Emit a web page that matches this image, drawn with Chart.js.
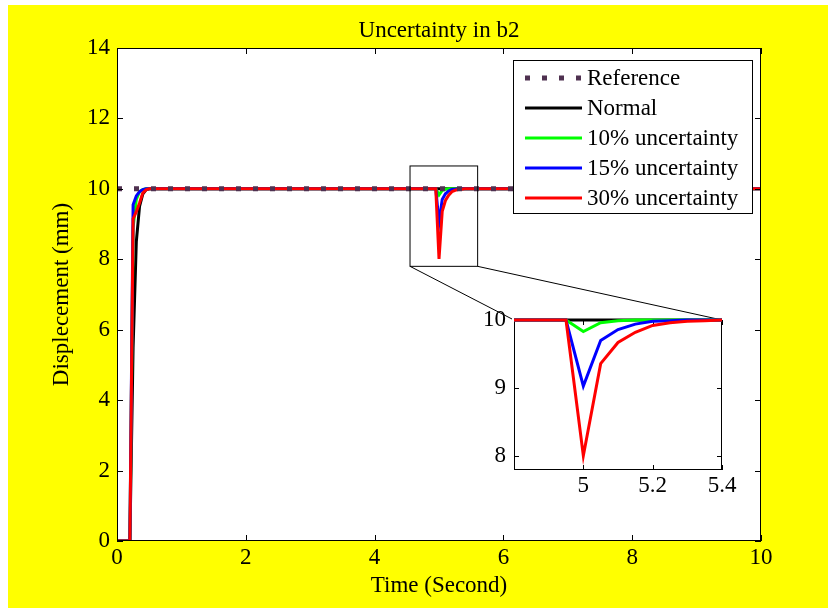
<!DOCTYPE html>
<html>
<head>
<meta charset="utf-8">
<script src="https://cdn.jsdelivr.net/npm/chart.js@4/dist/chart.umd.min.js"></script>
<style>
  html, body { margin: 0; padding: 0; background: #fff; }
  #wrap { position: relative; width: 828px; height: 608px; }
  #main { position: absolute; left: 0; top: 0; }
  #inset { position: absolute; left: 440px; top: 290px; }
</style>
</head>
<body>
<div id="wrap">
  <canvas id="main" width="828" height="608"></canvas>
  <canvas id="inset" width="300" height="220"></canvas>
</div>
<script>
// values: time (s) and displacement (mm)
const time   = [0, 0.2, 0.25, 0.3, 0.35, 0.4, 0.45, 0.5, 4.95, 5.0, 5.05, 5.1, 5.15, 5.2, 5.25, 5.3, 5.35, 5.4, 10];
const normal = [0, 0, 5.5, 8.5, 9.5, 9.85, 9.97, 10, 10, 10, 10, 10, 10, 10, 10, 10, 10, 10, 10];
const unc10  = [0, 0, 8.9, 9.7, 9.92, 9.98, 10, 10, 10, 9.83, 9.96, 9.99, 10, 10, 10, 10, 10, 10, 10];
const unc15  = [0, 0, 9.55, 9.8, 9.92, 9.98, 10, 10, 10, 9.03, 9.7, 9.86, 9.94, 9.98, 9.99, 10, 10, 10, 10];
const unc30  = [0, 0, 9.15, 9.35, 9.6, 9.88, 9.97, 10, 10, 8.01, 9.36, 9.67, 9.82, 9.92, 9.96, 9.98, 9.99, 10, 10];
const refTime  = [0, 10];
const refValue = [10, 10];

const seriesNames = ["Reference", "Normal", "10% uncertainty", "15% uncertainty", "30% uncertainty"];
const xTicks = [0, 2, 4, 6, 8, 10];
const yTicks = [0, 2, 4, 6, 8, 10, 12, 14];
const insetXTicks = [5, 5.2, 5.4];
const insetYTicks = [8, 9, 10];

// zoomed window (data units) and where the inset sits on the page
const zoomWin = { x0: 4.55, x1: 5.6, y0: 7.8, y1: 10.65 };
const insetBox = { left: 514, top: 320, right: 722, bottom: 470 };

const FONT = { family: '"Liberation Serif", "Times New Roman", serif', size: 23, lineHeight: 1.2 };
const colors = ["#4f3150", "#000000", "#00ff00", "#0000ff", "#ff0000"];

function pts(xs, ys) {
  return xs.map((x, i) => ({ x: x, y: ys[i] }));
}

function makeSets(withRef, clip) {
  // lower "order" is painted on top: reference, then red, blue, green, black
  let sets = [
    { label: seriesNames[1], data: pts(time, normal), borderColor: colors[1], borderWidth: 3, order: 4, clip: clip },
    { label: seriesNames[2], data: pts(time, unc10), borderColor: colors[2], borderWidth: 3, order: 3, clip: clip },
    { label: seriesNames[3], data: pts(time, unc15), borderColor: colors[3], borderWidth: 3, order: 2, clip: clip },
    { label: seriesNames[4], data: pts(time, unc30), borderColor: colors[4], borderWidth: 3, order: 1, clip: clip },
  ];
  if (withRef) {
    sets.unshift({ label: seriesNames[0], data: pts(refTime, refValue), borderColor: colors[0],
      borderWidth: 5, borderDash: [5, 12], borderCapStyle: "butt", order: 0 });
  }
  return sets;
}

function frame(chart, len) {
  const { ctx, chartArea: a, scales: { x, y } } = chart;
  ctx.save();
  ctx.strokeStyle = "#000";
  ctx.lineWidth = 1;
  ctx.beginPath();
  x.ticks.forEach(t => {
    const px = Math.round(x.getPixelForValue(t.value)) + 0.5;
    ctx.moveTo(px, a.bottom); ctx.lineTo(px, a.bottom - len);
    ctx.moveTo(px, a.top); ctx.lineTo(px, a.top + len);
  });
  y.ticks.forEach(t => {
    const py = Math.round(y.getPixelForValue(t.value)) + 0.5;
    ctx.moveTo(a.left, py); ctx.lineTo(a.left + len, py);
    ctx.moveTo(a.right, py); ctx.lineTo(a.right - len, py);
  });
  ctx.stroke();
  ctx.strokeRect(a.left + 0.5, a.top + 0.5, a.width - 1, a.height - 1);
  ctx.restore();
}

function fontStr() {
  return FONT.size + "px " + FONT.family;
}

const mainPlugin = {
  id: "matlabLook",
  beforeDraw(chart) {
    const { ctx, chartArea: a } = chart;
    ctx.save();
    ctx.fillStyle = "#ffffff";
    ctx.fillRect(0, 0, chart.width, chart.height);
    ctx.fillStyle = "#ffff00";
    ctx.fillRect(8, 5, chart.width - 8, chart.height - 5);
    ctx.fillStyle = "#ffffff";
    ctx.fillRect(a.left, a.top, a.width, a.height);
    ctx.restore();
  },
  afterDraw(chart) {
    const { ctx, chartArea: a, scales: { x, y } } = chart;
    frame(chart, 6);

    // title
    ctx.save();
    ctx.font = fontStr();
    ctx.fillStyle = "#000";
    ctx.textAlign = "center";
    ctx.textBaseline = "middle";
    ctx.fillText("Uncertainty in b2", (a.left + a.right) / 2, 31);

    // zoom rectangle and connector lines to the inset
    const zx0 = x.getPixelForValue(zoomWin.x0), zx1 = x.getPixelForValue(zoomWin.x1);
    const zy0 = y.getPixelForValue(zoomWin.y0), zy1 = y.getPixelForValue(zoomWin.y1);
    ctx.strokeStyle = "#000";
    ctx.lineWidth = 1;
    ctx.strokeRect(zx0, zy1, zx1 - zx0, zy0 - zy1);
    ctx.beginPath();
    ctx.moveTo(zx0, zy0); ctx.lineTo(insetBox.left - 2, insetBox.top - 1);
    ctx.moveTo(zx1, zy0); ctx.lineTo(insetBox.right, insetBox.top);
    ctx.stroke();

    // legend box
    const lx = 513, ly = 60, lw = 239, lh = 153, rowH = 30;
    ctx.fillStyle = "#fff";
    ctx.fillRect(lx, ly, lw, lh);
    ctx.strokeRect(lx + 0.5, ly + 0.5, lw, lh);
    ctx.textAlign = "left";
    chart.data.datasets.forEach((ds, i) => {
      const cy = ly + 18 + i * rowH;
      ctx.save();
      ctx.strokeStyle = ds.borderColor;
      ctx.lineWidth = i === 0 ? 5 : 3;
      ctx.lineCap = "butt";
      ctx.setLineDash(ds.borderDash || []);
      ctx.beginPath();
      ctx.moveTo(525, cy); ctx.lineTo(582, cy);
      ctx.stroke();
      ctx.restore();
      ctx.fillStyle = "#000";
      ctx.fillText(ds.label, 587, cy + 1);
    });
    ctx.restore();
  }
};

const insetPlugin = {
  id: "insetLook",
  beforeDraw(chart) {
    const { ctx, chartArea: a } = chart;
    ctx.save();
    ctx.fillStyle = "#ffffff";
    ctx.fillRect(a.left, a.top, a.width, a.height);
    ctx.restore();
  },
  beforeDatasetsDraw(chart) {
    frame(chart, 5);
  }
};

function axis(min, max, ticks, size, isX, padding, title) {
  return {
    type: "linear",
    min: min,
    max: max,
    afterBuildTicks: s => { s.ticks = ticks.map(v => ({ value: v })); },
    afterFit: s => { if (isX) s.height = size; else s.width = size; },
    grid: { display: false, drawTicks: false },
    border: { display: false },
    ticks: { font: FONT, color: "#000", padding: padding, autoSkip: false, maxRotation: 0,
      callback: v => String(v) },
    title: title || { display: false }
  };
}

Chart.defaults.font.family = FONT.family;

new Chart(document.getElementById("main"), {
  type: "line",
  data: { datasets: makeSets(true) },
  options: {
    responsive: false,
    animation: false,
    layout: { padding: { left: 0, top: 48, right: 67, bottom: 0 } },
    elements: { point: { radius: 0 }, line: { tension: 0 } },
    plugins: { legend: { display: false }, tooltip: { enabled: false } },
    scales: {
      x: axis(0, 10, xTicks, 67, true, 3,
        { display: true, text: "Time (Second)", font: FONT, color: "#000", padding: { top: 0, bottom: 8 } }),
      y: axis(0, 14, yTicks, 117, false, 7,
        { display: true, text: "Displecement (mm)", font: FONT, color: "#000", padding: { top: 48, bottom: 0 } })
    }
  },
  plugins: [mainPlugin]
});

new Chart(document.getElementById("inset"), {
  type: "line",
  data: { datasets: makeSets(false, { left: 0, top: 2, right: 0, bottom: 0 }) },
  options: {
    responsive: false,
    animation: false,
    layout: { padding: { left: 0, top: insetBox.top - 290, right: 440 + 300 - insetBox.right, bottom: 0 } },
    elements: { point: { radius: 0 }, line: { tension: 0 } },
    plugins: { legend: { display: false }, tooltip: { enabled: false } },
    scales: {
      x: axis(4.8, 5.4, insetXTicks, 220 - (insetBox.bottom - 290), true, 2),
      y: axis(7.8, 10, insetYTicks, insetBox.left - 440, false, 8)
    }
  },
  plugins: [insetPlugin]
});
</script>
</body>
</html>
